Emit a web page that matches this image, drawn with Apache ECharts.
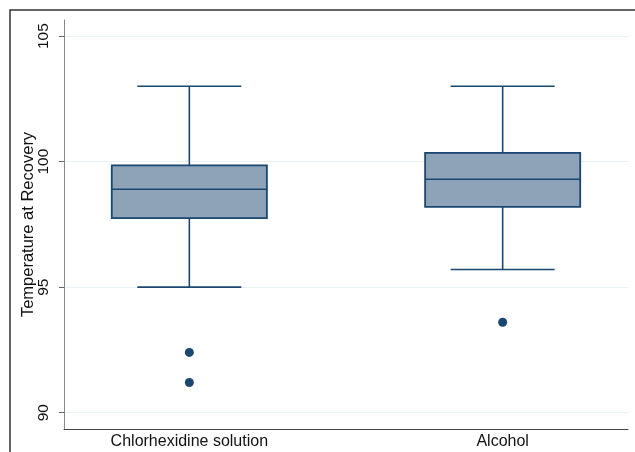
<!DOCTYPE html>
<html>
<head>
<meta charset="utf-8">
<script src="https://cdn.jsdelivr.net/npm/echarts@6/dist/echarts.min.js"></script>
<style>
  html, body { margin: 0; padding: 0; background: #fff; }
  #chart { width: 635px; height: 452px; }
</style>
</head>
<body>
<div id="chart"></div>
<script>
// groups on the x axis
var groups = ['Chlorhexidine solution', 'Alcohol'];
// box statistics, one entry per group
var lowerWhisker = [95, 95.7];
var q1 = [97.75, 98.2];
var median = [98.9, 99.3];
var q3 = [99.85, 100.35];
var upperWhisker = [103, 103];
// outside values: [group index, temperature]
var outliers = [[0, 92.4], [0, 91.2], [1, 93.6]];
var yTicks = [90, 95, 100, 105];

var navy = '#1a476f';

var boxData = groups.map(function (g, i) {
  return [i, lowerWhisker[i], q1[i], median[i], q3[i], upperWhisker[i]];
});

function renderBox(params, api) {
  var x = api.value(0);
  var lo = api.coord([x, api.value(1)]);
  var b1 = api.coord([x, api.value(2)]);
  var md = api.coord([x, api.value(3)]);
  var b3 = api.coord([x, api.value(4)]);
  var hi = api.coord([x, api.value(5)]);
  var boxW = api.size([0.495, 0])[0];
  var capW = api.size([0.332, 0])[0];
  var cx = lo[0];
  var lineStyle = { stroke: navy, lineWidth: 1.6 };
  return {
    type: 'group',
    children: [
      { type: 'line', shape: { x1: cx, y1: b3[1], x2: cx, y2: hi[1] }, style: lineStyle },
      { type: 'line', shape: { x1: cx, y1: b1[1], x2: cx, y2: lo[1] }, style: lineStyle },
      { type: 'line', shape: { x1: cx - capW / 2, y1: hi[1], x2: cx + capW / 2, y2: hi[1] }, style: lineStyle },
      { type: 'line', shape: { x1: cx - capW / 2, y1: lo[1], x2: cx + capW / 2, y2: lo[1] }, style: lineStyle },
      {
        type: 'rect',
        shape: { x: cx - boxW / 2, y: b3[1], width: boxW, height: b1[1] - b3[1] },
        style: { fill: '#8ea3b8', stroke: navy, lineWidth: 1.8 }
      },
      { type: 'line', shape: { x1: cx - boxW / 2, y1: md[1], x2: cx + boxW / 2, y2: md[1] }, style: lineStyle }
    ]
  };
}

var chart = echarts.init(document.getElementById('chart'));

chart.setOption({
  animation: false,
  textStyle: { fontFamily: 'Liberation Sans, Arial, sans-serif' },
  graphic: [{
    type: 'rect',
    shape: { x: 10, y: 10, width: 700, height: 700 },
    style: { fill: null, stroke: '#333', lineWidth: 1.5 },
    silent: true
  }],
  grid: { left: 64, right: 7, top: 20, bottom: 23, containLabel: false },
  xAxis: {
    type: 'value',
    min: -0.4,
    max: 1.4,
    axisLine: { show: true, onZero: false, lineStyle: { color: '#444', width: 1 } },
    axisTick: { show: false },
    splitLine: { show: false },
    axisLabel: {
      customValues: [0, 1],
      formatter: function (v) { return groups[Math.round(v)]; },
      color: '#111',
      fontSize: 16,
      margin: 5
    }
  },
  yAxis: {
    type: 'value',
    min: 89.35,
    max: 105.64,
    name: 'Temperature at Recovery',
    nameLocation: 'middle',
    nameMoveOverlap: false,
    nameGap: 27,
    nameTextStyle: { color: '#111', fontSize: 16.5 },
    axisLine: { show: true, onZero: false, lineStyle: { color: '#888', width: 1 } },
    axisTick: { show: true, length: 5, customValues: yTicks, lineStyle: { color: '#666' } },
    splitLine: { show: true, lineStyle: { color: '#eaf1f5', width: 1 } },
    axisLabel: {
      customValues: yTicks,
      rotate: 90,
      color: '#111',
      fontSize: 15.5,
      margin: 12
    }
  },
  series: [
    {
      type: 'custom',
      renderItem: renderBox,
      data: boxData,
      encode: { x: 0, y: [1, 2, 3, 4, 5] },
      z: 3
    },
    {
      type: 'scatter',
      data: outliers,
      symbol: 'circle',
      symbolSize: 9,
      itemStyle: { color: navy, opacity: 1 },
      z: 4
    }
  ]
});
</script>
</body>
</html>
